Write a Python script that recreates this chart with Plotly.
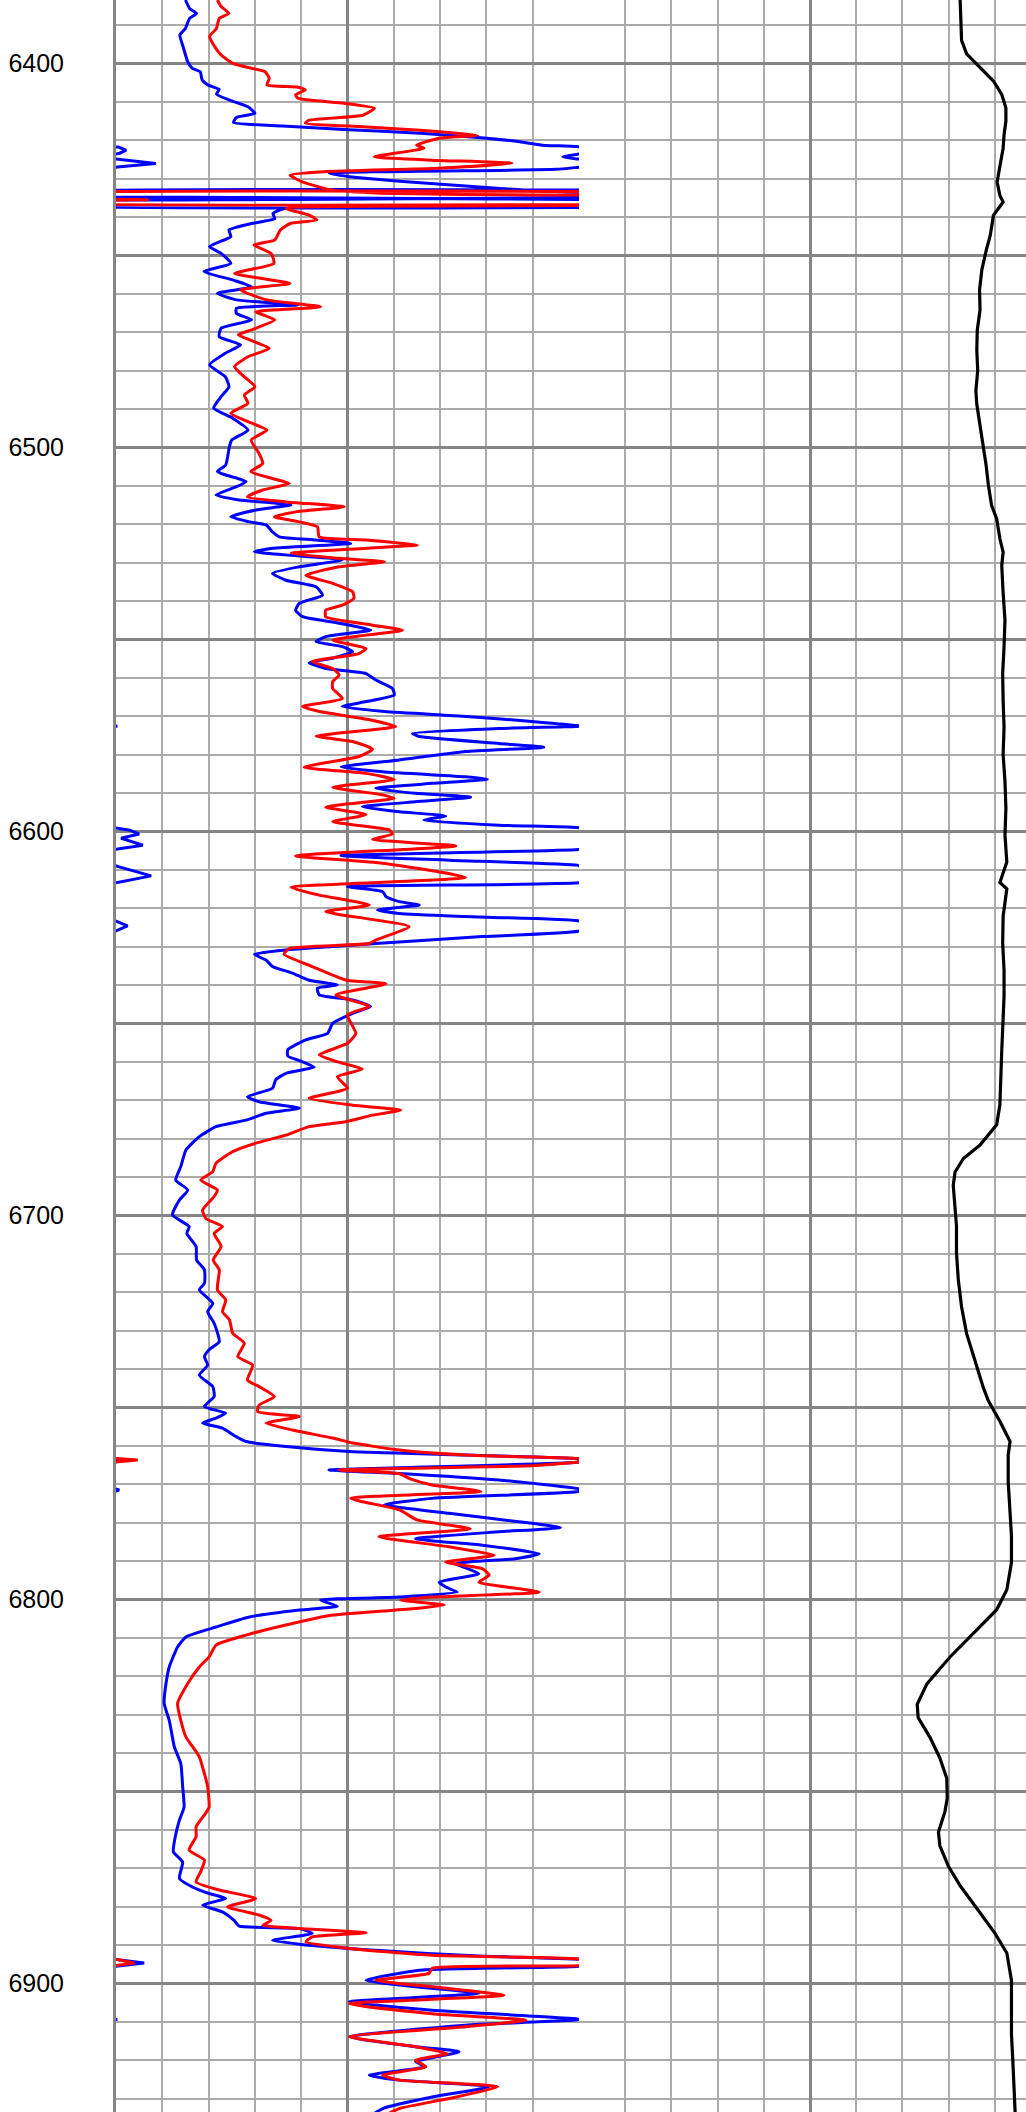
import plotly.graph_objects as go

# ---------------- data (depth in ft, curve value in track units 0-100) ----------------
BLUE = [
    (6383.5, 15.0), (6385.7, 15.9), (6387.0, 17.4), (6388.3, 15.9), (6390.9, 15.0), (6392.6, 13.8),
    (6395.7, 14.5), (6399.6, 15.5), (6401.3, 16.5), (6402.2, 18.2), (6404.3, 18.6), (6405.6, 19.8),
    (6406.8, 22.3), (6408.0, 21.7), (6409.5, 24.4), (6411.3, 28.5), (6413.0, 30.0), (6414.1, 26.0),
    (6415.4, 25.4), (6416.3, 36.0), (6417.2, 49.2), (6418.2, 65.7), (6419.3, 78.1), (6420.4, 87.2),
    (6421.3, 92.1), (6421.8, 100.5), (6422.6, 102.2), (6423.4, 100.8), (6424.4, 96.5), (6425.0, 100.5),
    (6426.1, 108.6), (6427.0, 100.3), (6427.6, 95.0), (6428.6, 46.0), (6429.5, 50.4), (6431.0, 65.0),
    (6432.6, 83.0), (6433.5, 97.0), (6433.9, 250), (6434.0, -30), (6434.8, -30), (6434.85, 250),
    (6435.6, 250), (6435.65, -30), (6436.5, -30), (6436.55, 250), (6437.3, 95.0), (6437.8, 36.4),
    (6439.1, 33.9),
    (6440.4, 34.3), (6441.7, 29.3), (6443.4, 24.4), (6445.1, 24.8), (6447.7, 20.2), (6449.5, 22.7),
    (6452.1, 24.8), (6454.2, 19.0), (6456.4, 25.2), (6458.2, 29.3), (6459.9, 21.9), (6461.6, 26.0),
    (6462.9, 39.3), (6463.8, 26.0), (6465.1, 26.0), (6466.8, 29.3), (6469.0, 22.7), (6471.2, 22.3),
    (6473.3, 26.9), (6475.5, 23.6), (6478.5, 20.2), (6481.6, 23.6), (6484.2, 24.4), (6486.8, 22.7),
    (6489.8, 21.1), (6492.4, 25.2), (6495.5, 28.5), (6498.1, 25.0), (6499.8, 24.5), (6504.6, 23.7),
    (6506.3, 21.9), (6507.2, 23.7), (6508.9, 28.1), (6510.3, 25.9), (6512.4, 21.6), (6513.7, 26.6),
    (6515.0, 37.8), (6516.3, 30.2), (6518.1, 24.8), (6519.4, 28.8), (6520.2, 32.4), (6522.0, 33.8),
    (6523.3, 35.3), (6524.1, 43.2), (6525.0, 50.7), (6526.3, 33.8), (6527.2, 29.9), (6528.0, 36.7),
    (6529.3, 48.9), (6531.1, 39.6), (6532.8, 33.8), (6534.6, 36.7), (6536.3, 43.2), (6538.5, 44.6),
    (6540.6, 39.6), (6542.4, 38.8), (6544.1, 40.3), (6545.8, 48.2), (6547.6, 55.0), (6549.3, 45.3),
    (6550.6, 43.2), (6551.9, 48.9), (6553.2, 51.1), (6554.9, 46.8), (6556.1, 41.7), (6557.6, 45.3),
    (6558.9, 54.0), (6560.6, 56.1), (6562.8, 59.7), (6564.5, 60.1), (6566.2, 54.0), (6567.5, 48.9),
    (6568.8, 58.0), (6570.0, 75.0), (6571.4, 89.9), (6572.6, 100.3), (6573.2, 82.7), (6574.5, 64.0),
    (6575.3, 65.5), (6577.1, 82.7), (6578.1, 92.4), (6579.2, 75.5), (6581.4, 61.2), (6583.2, 48.6),
    (6584.5, 57.6), (6585.8, 75.5), (6586.4, 80.2), (6587.5, 68.3), (6588.8, 56.1), (6590.1, 64.7),
    (6591.1, 76.6), (6592.3, 64.7), (6593.6, 53.2), (6594.9, 61.2), (6596.0, 71.2), (6597.1, 66.5),
    (6598.4, 82.7), (6599.0, 99.5), (6599.7, 103.0), (6600.7, 105.0), (6601.8, 101.1), (6603.6, 105.8),
    (6604.7, 99.9), (6606.3, 48.6), (6607.5, 71.9), (6608.8, 99.6), (6609.2, 100.5), (6611.6, 107.6),
    (6613.4, 100.0), (6614.4, 50.0), (6615.7, 57.6), (6617.0, 58.3), (6618.3, 61.2), (6619.2, 65.5),
    (6620.5, 56.5), (6621.4, 61.2), (6622.2, 75.5), (6623.3, 99.8), (6624.6, 102.5), (6626.0, 99.8),
    (6627.4, 79.1), (6629.2, 56.1), (6630.0, 46.8), (6630.9, 36.7), (6632.0, 29.9), (6633.5, 32.4),
    (6635.2, 33.8), (6636.9, 38.1), (6638.7, 41.5), (6640.0, 47.8), (6640.9, 43.5), (6642.6, 43.9),
    (6643.9, 51.1), (6645.6, 55.0), (6647.4, 51.1), (6650.0, 46.8), (6652.6, 45.7), (6654.3, 41.0),
    (6656.9, 37.1), (6658.5, 37.1), (6660.0, 40.3), (6661.4, 42.8), (6663.0, 36.7), (6664.7, 34.5),
    (6666.9, 33.8), (6669.1, 28.4), (6670.4, 30.9), (6672.1, 39.6), (6673.4, 32.4), (6675.2, 28.1),
    (6676.9, 21.6), (6679.5, 18.0), (6683.0, 15.1), (6687.3, 14.0), (6690.8, 12.9), (6693.4, 15.5),
    (6696.0, 13.7), (6699.9, 12.2), (6702.9, 15.8), (6704.7, 15.3), (6708.1, 17.3), (6711.6, 17.4),
    (6714.2, 19.1), (6717.7, 19.1), (6719.4, 18.0), (6722.9, 20.9), (6725.1, 19.8), (6728.1, 21.2),
    (6732.9, 22.3), (6735.0, 20.1), (6736.8, 19.1), (6739.0, 19.8), (6741.6, 18.0), (6744.6, 20.9),
    (6747.2, 21.2), (6749.8, 19.1), (6751.5, 23.7), (6752.8, 21.6), (6754.1, 18.7), (6755.4, 23.0),
    (6757.6, 25.9), (6758.9, 28.1), (6760.2, 36.7), (6761.5, 50.4), (6762.4, 75.5), (6763.3, 99.5),
    (6763.7, 101.5), (6764.3, 99.5), (6766.3, 46.0), (6767.2, 61.2), (6768.9, 82.7), (6771.1, 99.5),
    (6771.5, 100.7), (6772.0, 99.5), (6773.7, 68.3), (6775.4, 57.9), (6777.6, 71.9), (6780.2, 89.9),
    (6781.3, 96.0), (6782.4, 82.7), (6784.2, 64.7), (6785.9, 79.1), (6788.1, 91.4), (6789.4, 86.3),
    (6790.7, 73.4), (6793.3, 78.4), (6795.5, 69.8), (6796.8, 71.2), (6798.1, 73.7), (6799.4, 61.2),
    (6800.2, 44.2), (6801.8, 47.8), (6802.8, 39.6), (6804.6, 28.8), (6807.2, 21.6), (6809.8, 15.1),
    (6812.4, 13.3), (6817.6, 11.5), (6821.9, 10.8), (6827.1, 10.4), (6831.5, 11.5), (6838.4, 12.6),
    (6842.8, 14.0), (6848.8, 14.4), (6854.1, 14.7), (6857.5, 13.7), (6861.8, 12.8), (6865.8, 12.4),
    (6868.4, 14.4), (6872.7, 13.7), (6874.9, 16.5), (6876.6, 20.1), (6877.9, 23.7), (6879.6, 18.7),
    (6881.4, 23.0), (6883.6, 25.5), (6885.1, 26.6), (6885.7, 39.6), (6887.0, 42.4), (6888.8, 33.8),
    (6889.8, 39.6), (6891.4, 56.1), (6892.9, 78.4), (6893.7, 99.5), (6894.7, 106.1), (6895.6, 99.5),
    (6896.6, 65.5), (6899.2, 54.0), (6900.9, 64.7), (6902.6, 78.4), (6904.8, 50.4), (6907.0, 68.3),
    (6909.4, 100.3), (6910.9, 75.5), (6913.9, 50.4), (6916.5, 64.7), (6917.8, 74.1), (6920.4, 64.7),
    (6921.7, 66.9), (6923.9, 54.7), (6925.2, 61.2), (6926.9, 80.6), (6929.6, 68.3), (6932.6, 57.6),
    (6934.5, 55.0),
]

RED = [
    (6383.5, 21.9), (6385.2, 22.7), (6387.0, 24.4), (6388.3, 22.3), (6390.9, 21.7), (6393.0, 20.2),
    (6395.2, 21.1), (6397.8, 22.7), (6400.0, 25.2), (6401.3, 29.3), (6402.2, 32.2), (6403.9, 33.1),
    (6405.6, 32.6), (6406.2, 39.3), (6406.9, 40.9), (6408.2, 38.8), (6409.1, 39.3), (6410.4, 49.2),
    (6411.7, 55.8), (6413.5, 53.3), (6414.8, 41.7), (6415.6, 40.9), (6416.5, 53.3), (6417.4, 65.7),
    (6418.7, 78.1), (6419.5, 69.8), (6421.3, 64.9), (6422.1, 66.5), (6424.3, 55.8), (6425.2, 68.2),
    (6426.0, 85.5), (6427.3, 69.8), (6428.2, 45.0), (6429.1, 37.6), (6430.8, 40.1), (6433.0, 46.7),
    (6433.8, 57.4), (6434.3, 90.0), (6434.4, 250), (6434.45, -30), (6435.3, -30), (6435.5, 6.8),
    (6435.7, -30), (6436.1, -30), (6436.15, 250), (6437.0, 99.0), (6437.8, 36.8), (6439.5, 41.7),
    (6440.8, 43.4), (6441.7, 37.6),
    (6443.4, 35.5), (6446.0, 34.3), (6447.3, 29.8), (6449.5, 33.5), (6452.1, 34.1), (6454.7, 25.6),
    (6457.3, 37.6), (6459.0, 26.9), (6461.6, 32.6), (6463.4, 44.2), (6464.7, 30.2), (6466.8, 34.3),
    (6469.4, 29.3), (6470.7, 26.4), (6474.2, 33.1), (6476.4, 28.5), (6479.0, 25.6), (6481.6, 27.7),
    (6484.2, 30.0), (6486.4, 27.7), (6488.5, 28.5), (6491.1, 24.8), (6493.3, 28.5), (6495.5, 32.6),
    (6498.1, 29.2), (6501.6, 30.9), (6504.2, 31.7), (6506.3, 29.1), (6508.1, 33.8), (6509.4, 37.4),
    (6511.1, 31.7), (6512.9, 28.4), (6514.2, 36.7), (6515.5, 49.3), (6516.8, 38.8), (6518.1, 34.2),
    (6519.4, 39.6), (6520.7, 43.5), (6523.3, 43.9), (6524.1, 54.0), (6525.4, 65.1), (6526.3, 54.0),
    (6527.6, 37.8), (6528.9, 48.2), (6529.8, 58.0), (6531.1, 48.2), (6533.3, 41.0), (6535.4, 46.8),
    (6537.6, 51.1), (6539.3, 51.4), (6541.1, 48.9), (6542.4, 45.3), (6544.1, 45.3), (6546.3, 55.4),
    (6547.6, 61.9), (6548.9, 54.0), (6550.2, 46.8), (6552.4, 54.0), (6553.7, 52.5), (6555.8, 42.4),
    (6557.6, 46.8), (6559.3, 48.2), (6561.0, 46.8), (6562.8, 46.8), (6565.4, 48.9), (6567.5, 40.3),
    (6568.8, 44.0), (6570.0, 50.0), (6571.0, 55.0), (6572.7, 60.4), (6575.2, 43.2), (6576.6, 51.1),
    (6578.6, 55.4), (6580.5, 52.5), (6583.3, 40.6), (6584.9, 54.0), (6586.5, 60.1), (6588.5, 46.8),
    (6590.5, 57.6), (6591.4, 60.1), (6593.7, 45.3), (6595.6, 54.0), (6597.5, 46.8), (6599.6, 59.0),
    (6600.7, 59.7), (6602.1, 55.4), (6603.8, 73.4), (6606.4, 38.8), (6608.3, 57.6), (6612.0, 75.5),
    (6614.6, 37.8), (6616.6, 43.9), (6619.2, 54.7), (6620.9, 45.3), (6624.8, 63.3), (6628.3, 56.1),
    (6629.2, 54.7), (6630.5, 37.4), (6632.0, 36.3), (6635.2, 42.4), (6638.7, 49.6), (6639.7, 58.3),
    (6642.6, 47.5), (6645.6, 54.7), (6647.8, 50.0), (6652.6, 51.8), (6655.2, 50.0), (6658.2, 43.9),
    (6659.9, 47.5), (6661.9, 53.2), (6663.9, 47.8), (6666.9, 50.0), (6669.5, 41.7), (6671.3, 51.1),
    (6672.6, 61.5), (6673.9, 55.4), (6675.6, 49.6), (6676.9, 41.7), (6679.1, 36.7), (6681.2, 30.2),
    (6683.4, 25.2), (6686.4, 21.6), (6688.6, 20.9), (6690.8, 18.3), (6693.4, 21.9), (6695.1, 21.2),
    (6698.6, 18.7), (6700.8, 19.4), (6702.9, 23.0), (6704.7, 21.2), (6708.1, 22.7), (6711.6, 21.0),
    (6714.2, 22.3), (6719.4, 21.9), (6722.0, 23.7), (6725.1, 23.0), (6727.2, 24.5), (6730.7, 25.2),
    (6733.3, 27.7), (6736.8, 26.3), (6739.0, 29.5), (6742.9, 28.4), (6744.6, 30.9), (6747.2, 34.2),
    (6749.4, 30.9), (6751.1, 30.6), (6752.4, 39.6), (6754.1, 32.4), (6755.9, 38.1), (6758.0, 46.8),
    (6759.3, 51.1), (6761.1, 61.2), (6762.4, 75.5), (6763.3, 99.5), (6763.7, 104.7), (6764.3, 99.5),
    (6765.2, 89.9), (6766.3, 48.2), (6767.3, 61.2), (6768.7, 63.7), (6770.2, 68.3), (6771.9, 78.8),
    (6773.7, 50.7), (6776.7, 61.2), (6779.3, 65.0), (6781.6, 76.5), (6783.7, 56.8), (6786.3, 71.9),
    (6788.5, 81.7), (6790.3, 71.2), (6792.0, 79.1), (6793.7, 80.6), (6795.5, 78.4), (6798.1, 91.4),
    (6799.4, 68.3), (6800.2, 61.5), (6801.5, 70.9), (6802.4, 64.7), (6804.1, 46.8), (6806.3, 38.1),
    (6809.3, 28.1), (6811.9, 21.6), (6815.0, 20.1), (6817.6, 18.0), (6821.9, 15.5), (6827.1, 13.3),
    (6831.5, 14.0), (6835.8, 15.1), (6841.0, 18.0), (6845.4, 19.1), (6848.8, 19.8), (6854.1, 20.1),
    (6855.8, 19.3), (6859.2, 17.3), (6861.8, 17.3), (6865.3, 15.8), (6867.9, 19.1), (6870.9, 18.3),
    (6873.6, 17.3), (6875.7, 22.3), (6877.9, 30.2), (6880.1, 24.1), (6882.2, 30.9), (6883.6, 33.5),
    (6884.9, 31.7), (6885.7, 39.6), (6886.8, 54.0), (6887.9, 42.4), (6889.2, 41.0), (6890.9, 50.4),
    (6892.7, 68.3), (6893.6, 99.5), (6894.7, 104.0), (6895.4, 99.5), (6896.1, 68.3), (6897.4, 67.6),
    (6899.2, 56.1), (6900.9, 68.3), (6903.1, 83.8), (6905.3, 50.4), (6907.9, 68.3), (6909.6, 88.5),
    (6911.3, 75.5), (6913.9, 50.4), (6916.5, 64.7), (6918.3, 71.6), (6920.0, 64.7), (6921.7, 66.9),
    (6923.9, 57.6), (6925.2, 61.2), (6926.9, 82.4), (6930.0, 71.9), (6932.6, 61.2), (6934.5, 58.0),
]

BLACK = [
    (6383.5, 82.5), (6388.8, 82.6), (6394.0, 82.8), (6397.5, 83.9), (6401.1, 86.8), (6404.6, 89.7),
    (6408.1, 91.5), (6411.6, 92.4), (6415.1, 92.4), (6418.6, 92.0), (6422.1, 91.8), (6427.4, 91.1),
    (6430.9, 90.5), (6434.4, 91.1), (6436.1, 91.8), (6439.6, 89.7), (6444.9, 89.0), (6448.4, 88.2),
    (6453.7, 87.2), (6458.9, 86.7), (6464.2, 86.8), (6469.5, 86.2), (6474.7, 86.1), (6480.0, 86.3),
    (6485.2, 85.9), (6488.8, 86.1), (6494.0, 86.8), (6499.3, 87.5), (6504.5, 88.1), (6509.8, 88.6),
    (6515.1, 89.3), (6518.6, 90.4), (6523.8, 91.1), (6527.3, 91.8), (6530.8, 91.5), (6537.9, 91.8),
    (6544.9, 92.2), (6551.9, 92.0), (6558.9, 91.7), (6565.9, 91.8), (6572.9, 92.0), (6580.0, 91.8),
    (6587.0, 92.2), (6594.0, 92.4), (6601.0, 92.2), (6608.0, 92.6), (6613.3, 91.1), (6615.0, 92.6),
    (6622.1, 91.8), (6629.1, 91.7), (6636.1, 92.0), (6643.1, 92.0), (6650.1, 91.7), (6657.1, 91.5),
    (6664.2, 91.3), (6671.2, 91.1), (6676.4, 90.4), (6681.7, 86.8), (6685.2, 83.2), (6688.7, 81.4),
    (6692.2, 81.0), (6697.5, 81.4), (6702.7, 81.7), (6709.8, 81.7), (6716.8, 82.1), (6723.8, 82.8),
    (6730.8, 83.9), (6737.8, 85.7), (6744.8, 87.5), (6748.3, 88.6), (6753.6, 91.1), (6758.9, 93.3),
    (6762.4, 92.9), (6769.4, 92.9), (6776.4, 93.3), (6783.4, 93.6), (6790.4, 93.6), (6797.5, 92.6),
    (6802.7, 90.4), (6808.0, 86.1), (6815.0, 80.3), (6822.0, 75.3), (6827.3, 73.2), (6830.8, 73.4),
    (6836.0, 76.0), (6841.3, 78.1), (6846.6, 79.6), (6851.8, 79.7), (6855.3, 79.2), (6860.6, 77.8),
    (6864.1, 78.1), (6869.4, 79.9), (6874.6, 82.5), (6881.6, 86.8), (6886.9, 90.0), (6892.1, 92.6),
    (6899.2, 93.6), (6906.2, 93.6), (6913.2, 93.6), (6920.2, 93.9), (6927.3, 94.2), (6933.6, 94.4),
]

DEPTH_LABELS = [6400, 6500, 6600, 6700, 6800, 6900]
DEPTH_RANGE = (6933.5, 6383.5)       # top of page = shallow
TRACK1_RANGE = (0, 100)
TRACK2_RANGE = (0, 96.75)            # track 2 is cut by the page edge

MAJOR = "#858585"
MINOR = "#ababab"


def split(curve):
    return [p[0] for p in curve], [p[1] for p in curve]


def backup(values, limit=100.0, span=100.0):
    """Wrap-around ("backup") copy of a curve for values just past the track's right edge."""
    over = [limit < v < limit + span for v in values]
    out = []
    n = len(values)
    for i, v in enumerate(values):
        near = over[i] or (i > 0 and over[i - 1]) or (i < n - 1 and over[i + 1])
        out.append(v - span if near else None)
    return out


fig = go.Figure()

blue_d, blue_v = split(BLUE)
red_d, red_v = split(RED)
black_d, black_v = split(BLACK)

for d, v, col in [(blue_d, blue_v, "#0000ff"), (red_d, red_v, "#ff0000")]:
    fig.add_trace(go.Scatter(x=v, y=d, mode="lines",
                             line=dict(color=col, width=3, shape="spline", smoothing=0.5),
                             xaxis="x", yaxis="y", hoverinfo="skip", showlegend=False))
    fig.add_trace(go.Scatter(x=backup(v), y=d, mode="lines", line=dict(color=col, width=3),
                             xaxis="x", yaxis="y", hoverinfo="skip", showlegend=False,
                             connectgaps=False))

fig.add_trace(go.Scatter(x=black_v, y=black_d, mode="lines", line=dict(color="#000000", width=3.2),
                         xaxis="x2", yaxis="y", hoverinfo="skip", showlegend=False))

split_frac = (579 - 116) / (1026 - 116)

xgrid = dict(
    tickmode="linear", tick0=0, dtick=50, showticklabels=False, ticks="",
    showgrid=True, gridcolor=MAJOR, gridwidth=2.5, zeroline=False, showline=False,
    minor=dict(tickmode="linear", tick0=0, dtick=10, showgrid=True, gridcolor=MINOR, gridwidth=1.5, ticks=""),
)

alias = {}
for v in range(6350, 6951, 50):
    if v not in DEPTH_LABELS:
        alias[str(v)] = ""

fig.update_layout(
    width=1026, height=2112,
    margin=dict(l=116, r=0, t=0, b=0, pad=0),
    paper_bgcolor="white", plot_bgcolor="white",
    showlegend=False,
    xaxis=dict(domain=[0, split_frac], range=list(TRACK1_RANGE), anchor="y", **xgrid),
    xaxis2=dict(domain=[split_frac, 1], range=list(TRACK2_RANGE), anchor="y", **xgrid),
    yaxis=dict(
        range=list(DEPTH_RANGE), tickmode="linear", tick0=6400, dtick=50,
        labelalias=alias, ticks="", ticklabelstandoff=44,
        tickfont=dict(family="Liberation Sans, Arial, sans-serif", size=25, color="#000000"),
        showgrid=True, gridcolor=MAJOR, gridwidth=2.5, zeroline=False,
        showline=True, linecolor=MAJOR, linewidth=3,
        minor=dict(tickmode="linear", tick0=6400, dtick=10, showgrid=True, gridcolor=MINOR, gridwidth=1.5, ticks=""),
    ),
)

fig.write_html("out.html", config={"displayModeBar": False},
               post_script="document.body.style.margin='0px';")
